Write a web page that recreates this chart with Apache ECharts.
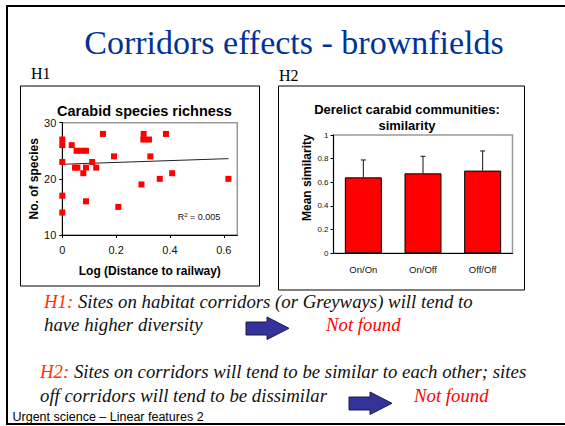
<!DOCTYPE html>
<html>
<head>
<meta charset="utf-8">
<script src="https://cdn.jsdelivr.net/npm/echarts@6/dist/echarts.min.js"></script>
<style>
  html, body { margin: 0; padding: 0; background: #fff; }
  #main { width: 565px; height: 426px; }
</style>
</head>
<body>
<div id="main"></div>
<script>
// H1 scatter: log distance to railway vs number of species
let richnessPoints = [
    [0, 27], [0, 26], [0, 23], [0, 17], [0, 14],
    [0.035, 26], [0.053, 25], [0.072, 25], [0.088, 25],
    [0.047, 22], [0.056, 22], [0.078, 21], [0.088, 22], [0.088, 16],
    [0.111, 23], [0.126, 22], [0.151, 28], [0.192, 24], [0.208, 15],
    [0.294, 19], [0.302, 28], [0.301, 27], [0.322, 27], [0.327, 24],
    [0.362, 20], [0.385, 28], [0.408, 21], [0.617, 20]
];
let trendLine = [[0, 22.6], [0.617, 23.6]];
let xTicks = [0, 0.2, 0.4, 0.6];

// H2 bars: mean similarity with upper error
let pairTypes = ['On/On', 'On/Off', 'Off/Off'];
let meanSimilarity = [0.642, 0.676, 0.699];
let upperError = [0.789, 0.82, 0.865];

let serif = 'Liberation Serif';
let sans = 'Liberation Sans';
let italicFont = 'italic 18.8px "Liberation Serif"';

let chart = echarts.init(document.getElementById('main'), null, {renderer: 'svg'});

function errorBar(params, api) {
    let top = api.coord([api.value(0), api.value(2)]);
    let base = api.coord([api.value(0), api.value(1)]);
    let cap = 2.5;
    return {
        type: 'group',
        children: [{
            type: 'line',
            shape: {x1: top[0], y1: base[1], x2: top[0], y2: top[1]},
            style: {stroke: '#111', lineWidth: 1}
        }, {
            type: 'line',
            shape: {x1: top[0] - cap, y1: top[1], x2: top[0] + cap, y2: top[1]},
            style: {stroke: '#111', lineWidth: 1}
        }]
    };
}

function slideText(x, y, text, color) {
    return {
        type: 'text', x: x, y: y,
        style: {
            text: text, fill: color || '#111', font: italicFont, verticalAlign: 'middle',
            rich: {r: {fill: '#ff3300', font: italicFont}}
        }
    };
}

option = {
    animation: false,
    title: [{
        text: 'Carabid species richness',
        left: 139.5, top: 98, textAlign: 'center',
        textStyle: {fontFamily: sans, fontWeight: 'bold', fontSize: 14.5, color: '#000'}
    }, {
        text: 'Derelict carabid communities:\nsimilarity',
        left: 402, top: 96, textAlign: 'center',
        textStyle: {fontFamily: sans, fontWeight: 'bold', fontSize: 13, lineHeight: 16.5, color: '#000'}
    }],
    grid: [
        {left: 62.3, top: 122.7, width: 175, height: 112.3, show: true,
         borderColor: '#999', borderWidth: 1.5, backgroundColor: '#fff'},
        {left: 333.5, top: 135, width: 179, height: 118.3, show: true,
         borderColor: '#999', borderWidth: 1.5, backgroundColor: '#fff'}
    ],
    xAxis: [{
        gridIndex: 0,
        type: 'value',
        min: 0,
        max: 0.65,
        name: 'Log (Distance to railway)',
        nameLocation: 'middle',
        nameGap: 30,
        nameTextStyle: {fontFamily: sans, fontWeight: 'bold', fontSize: 12, color: '#000'},
        axisLine: {show: true, lineStyle: {color: '#000', width: 1}},
        axisTick: {show: true, length: 3, customValues: xTicks, lineStyle: {color: '#000'}},
        axisLabel: {customValues: xTicks, margin: 9, fontFamily: sans, fontSize: 11, color: '#111'},
        splitLine: {show: false}
    }, {
        gridIndex: 1,
        type: 'category',
        data: pairTypes,
        axisLine: {lineStyle: {color: '#000', width: 1}},
        axisTick: {length: 4, lineStyle: {color: '#000'}},
        axisLabel: {margin: 11, fontFamily: sans, fontSize: 9.5, color: '#111'}
    }],
    yAxis: [{
        gridIndex: 0,
        type: 'value',
        min: 10,
        max: 30,
        interval: 10,
        name: 'No. of species',
        nameLocation: 'middle',
        nameGap: 20,
        nameTextStyle: {fontFamily: sans, fontWeight: 'bold', fontSize: 12, color: '#000'},
        axisLine: {show: true, lineStyle: {color: '#000', width: 1}},
        axisTick: {show: true, length: 3, lineStyle: {color: '#000'}},
        axisLabel: {margin: 6, fontFamily: sans, fontSize: 11, color: '#111'},
        splitLine: {show: false}
    }, {
        gridIndex: 1,
        type: 'value',
        min: 0,
        max: 1,
        interval: 0.2,
        name: 'Mean similarity',
        nameLocation: 'middle',
        nameGap: 21,
        nameTextStyle: {fontFamily: sans, fontWeight: 'bold', fontSize: 12, color: '#000', padding: [0, 0, 0, 33]},
        axisLine: {show: true, lineStyle: {color: '#000', width: 1}},
        axisTick: {show: true, length: 3, lineStyle: {color: '#000'}},
        axisLabel: {margin: 5, fontFamily: sans, fontSize: 8, color: '#111'},
        splitLine: {show: false}
    }],
    series: [{
        type: 'scatter',
        xAxisIndex: 0, yAxisIndex: 0,
        symbol: 'rect',
        symbolSize: 6,
        itemStyle: {color: '#ff0000', opacity: 1},
        data: richnessPoints,
        z: 3
    }, {
        type: 'line',
        xAxisIndex: 0, yAxisIndex: 0,
        showSymbol: false,
        lineStyle: {color: '#222', width: 1},
        data: trendLine,
        z: 2
    }, {
        type: 'bar',
        xAxisIndex: 1, yAxisIndex: 1,
        barCategoryGap: '38%',
        itemStyle: {color: '#ff0000', borderColor: '#000', borderWidth: 1},
        data: meanSimilarity
    }, {
        type: 'custom',
        xAxisIndex: 1, yAxisIndex: 1,
        renderItem: errorBar,
        encode: {x: 0, y: 2},
        data: pairTypes.map(function (c, i) { return [i, meanSimilarity[i], upperError[i]]; }),
        z: 4
    }],
    graphic: [
        // slide frame and chart boxes
        {type: 'rect', shape: {x: 7, y: 6, width: 620, height: 418},
         style: {fill: 'none', stroke: '#000', lineWidth: 2}, z: 0},
        {type: 'rect', shape: {x: 20.5, y: 86, width: 239, height: 200},
         style: {fill: 'none', stroke: '#000', lineWidth: 1}},
        {type: 'rect', shape: {x: 278.5, y: 86, width: 246, height: 204},
         style: {fill: 'none', stroke: '#000', lineWidth: 1}},
        {type: 'text', x: 294, y: 42,
         style: {text: 'Corridors effects - brownfields', font: '34px "Liberation Serif"',
                 fill: '#003399', align: 'center', verticalAlign: 'middle'}},
        {type: 'text', x: 31, y: 73,
         style: {text: 'H1', font: '16px "Liberation Serif"', fill: '#000', verticalAlign: 'middle'}},
        {type: 'text', x: 279, y: 75,
         style: {text: 'H2', font: '16px "Liberation Serif"', fill: '#000', verticalAlign: 'middle'}},
        {type: 'text', x: 177.7, y: 216.7,
         style: {text: 'R{s|2} = 0.005', font: '9px "Liberation Sans"', fill: '#111', verticalAlign: 'middle',
                 rich: {s: {font: '6px "Liberation Sans"', fill: '#111', verticalAlign: 'top', padding: [0, 0, 4, 0]}}}},
        // hypotheses
        slideText(44, 301, '{r|H1:} Sites on habitat corridors (or Greyways) will tend to'),
        slideText(44, 324, 'have higher diversity'),
        slideText(326, 324, 'Not found', '#ff0000'),
        slideText(40, 371, '{r|H2:} Sites on corridors will tend to be similar to each other; sites'),
        slideText(40, 395, 'off corridors will tend to be dissimilar'),
        slideText(414, 395, 'Not found', '#ff0000'),
        {type: 'polygon',
         shape: {points: [[246, 322], [267, 322], [267, 317], [289, 328.3], [267, 339.5], [267, 335], [246, 335]]},
         style: {fill: '#333399', stroke: '#1a1a4d', lineWidth: 1}},
        {type: 'polygon',
         shape: {points: [[349, 397], [370, 397], [370, 392], [392, 403.3], [370, 414.5], [370, 410], [349, 410]]},
         style: {fill: '#333399', stroke: '#1a1a4d', lineWidth: 1}},
        {type: 'text', x: 12.5, y: 417,
         style: {text: 'Urgent science \u2013 Linear features 2', font: '12.5px "Liberation Sans"',
                 fill: '#000', verticalAlign: 'middle'}}
    ]
};

chart.setOption(option);
</script>
</body>
</html>
